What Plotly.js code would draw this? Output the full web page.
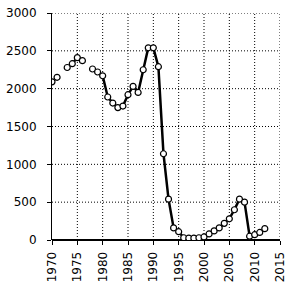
<!DOCTYPE html>
<html>
<head>
<meta charset="utf-8">
<script src="https://cdn.plot.ly/plotly-3.0.1.min.js"></script>
<style>html,body{margin:0;padding:0;background:#fff;}#chart{width:293px;height:286px;}</style>
</head>
<body>
<div id="chart"></div>
<script>
const years = [1970,1971,1972,1973,1974,1975,1976,1977,1978,1979,1980,1981,1982,1983,1984,1985,1986,1987,1988,1989,1990,1991,1992,1993,1994,1995,1996,1997,1998,1999,2000,2001,2002,2003,2004,2005,2006,2007,2008,2009,2010,2011,2012];
const values = [2090,2150,null,2280,2330,2410,2370,null,2260,2220,2170,1890,1810,1750,1770,1920,2030,1950,2250,2540,2540,2290,1140,540,160,110,30,25,25,30,40,80,120,160,220,280,400,540,500,50,70,100,150];
const yTicks = [0,500,1000,1500,2000,2500,3000];
const xTicks = [1970,1975,1980,1985,1990,1995,2000,2005,2010,2015];

const gridStyle = {color: '#000', width: 1, dash: '1px,2px'};
const shapes = [];
xTicks.slice(1).forEach(v => shapes.push({type: 'line', layer: 'below', xref: 'x', yref: 'paper', x0: v, x1: v, y0: 0, y1: 1, line: gridStyle}));
yTicks.slice(1).forEach(v => shapes.push({type: 'line', layer: 'below', xref: 'paper', yref: 'y', x0: 0, x1: 1, y0: v, y1: v, line: gridStyle}));

Plotly.newPlot('chart', [{
  x: years, y: values, type: 'scatter', mode: 'lines+markers',
  connectgaps: false,
  line: {color: '#000', width: 2.5},
  marker: {symbol: 'circle', size: 6, color: '#fff', line: {color: '#000', width: 1.2}},
  hoverinfo: 'none'
}], {
  width: 293, height: 286,
  margin: {l: 52, r: 13, t: 13, b: 46},
  paper_bgcolor: '#fff', plot_bgcolor: '#fff',
  showlegend: false,
  shapes: shapes,
  font: {family: 'DejaVu Sans', size: 12, color: '#000'},
  xaxis: {
    range: [1970, 2015], tickmode: 'array', tickvals: xTicks, ticktext: xTicks.map(String),
    tickangle: -90, showgrid: false,
    showline: false, zeroline: false, ticks: 'outside', ticklen: 4, tickcolor: '#000',
    ticklabelstandoff: 2,
    tickfont: {family: 'DejaVu Sans', size: 12, color: '#000'}
  },
  yaxis: {
    range: [0, 3000], tickmode: 'array', tickvals: yTicks, ticktext: yTicks.map(String),
    showgrid: false,
    showline: true, linecolor: '#000', linewidth: 1,
    zeroline: true, zerolinecolor: '#000', zerolinewidth: 1.5,
    ticks: 'outside', ticklen: 4, tickcolor: '#000',
    ticklabelstandoff: 8,
    tickfont: {family: 'DejaVu Sans', size: 12, color: '#000'}
  }
}, {displayModeBar: false, staticPlot: true});
</script>
</body>
</html>
